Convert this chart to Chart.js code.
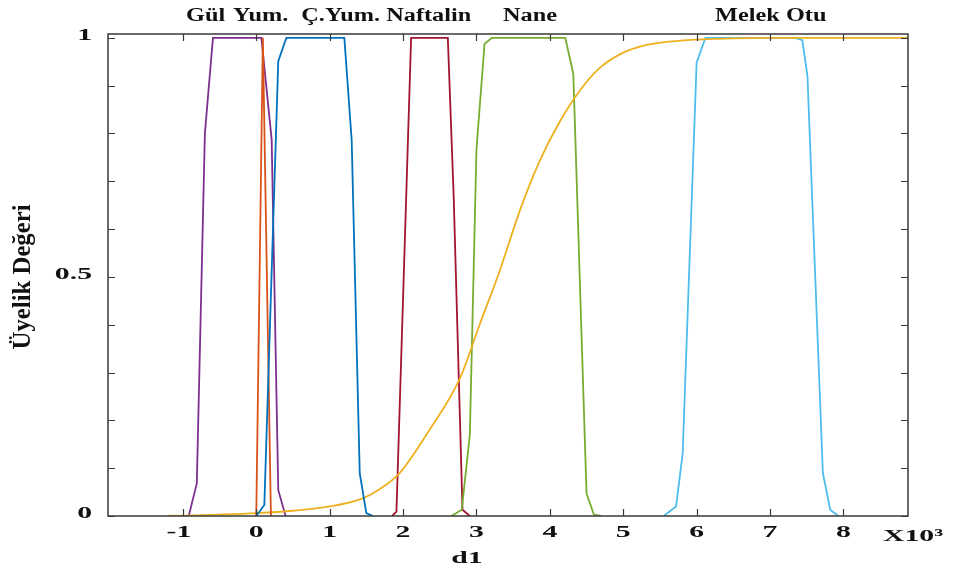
<!DOCTYPE html>
<html>
<head>
<meta charset="utf-8">
<title>d1 üyelik fonksiyonları</title>
<script src="https://cdn.jsdelivr.net/npm/chart.js@4.4.1/dist/chart.umd.min.js"></script>
<style>
  html, body { margin: 0; padding: 0; background: #ffffff; }
  #wrap { width: 955px; height: 573px; }
</style>
</head>
<body>
<div id="wrap"><canvas id="d1Chart" width="955" height="573"></canvas></div>
<script>
// x values are in thousands (axis shows X10^3), y is the membership degree
const gulX = [-0.92, -0.81, -0.70, -0.59, 0.07, 0.21, 0.30, 0.40];
const gulY = [0, 0.068, 0.80, 1, 1, 0.787, 0.054, 0];

const yumX = [0.0, 0.09, 0.20];
const yumY = [0, 1, 0];

const cyumX = [0.0, 0.11, 0.30, 0.41, 1.20, 1.30, 1.41, 1.50, 1.59];
const cyumY = [0, 0.023, 0.951, 1, 1, 0.787, 0.089, 0.006, 0];

const naftalinX = [1.85, 1.91, 2.11, 2.61, 2.69, 2.81, 2.91];
const naftalinY = [0, 0.009, 1, 1, 0.668, 0.013, 0];

const naneX = [2.66, 2.80, 2.91, 3.00, 3.11, 3.21, 4.21, 4.32, 4.50, 4.60, 4.70];
const naneY = [0, 0.013, 0.17, 0.766, 0.987, 1, 1, 0.925, 0.047, 0.003, 0];

const melekX = [5.55, 5.72, 5.81, 6.00, 6.12, 7.34, 7.44, 7.51, 7.72, 7.82, 7.93];
const melekY = [0, 0.02, 0.131, 0.948, 1, 1, 0.995, 0.92, 0.09, 0.013, 0];

// the yellow S-shaped curve
const sX = [-1.21, -0.5, 0.0, 0.5, 1.0, 1.45, 1.68, 1.95, 2.36, 2.77, 3.05, 3.32, 3.59, 3.86, 4.14, 4.41, 4.68, 4.96, 5.32, 5.78, 6.30, 7.00, 8.88];
const sY = [0, 0.003, 0.006, 0.011, 0.02, 0.037, 0.056, 0.089, 0.180, 0.286, 0.403, 0.514, 0.638, 0.742, 0.826, 0.890, 0.937, 0.966, 0.985, 0.994, 0.998, 1, 1];

// axes
const xTicks = [-1, 0, 1, 2, 3, 4, 5, 6, 7, 8];
const yMinorTicks = [0, 0.1, 0.2, 0.3, 0.4, 0.5, 0.6, 0.7, 0.8, 0.9, 1];
const yLabelValues = [0, 0.5, 1];
const yLabelTexts = ['0', '0.5', '1'];

// names written above the plot, anchored at an x value
const topLabels = ['Gül', 'Yum.', 'Ç.Yum.', 'Naftalin', 'Nane', 'Melek Otu'];
const topLabelX = [-0.69, 0.06, 1.15, 2.35, 3.73, 7.01];

function pts(xs, ys) {
    return xs.map(function(v, i) { return { x: v, y: ys[i] }; });
}

// draws text stretched sideways, the source picture is widened
function wideText(ctx, str, px, py, sx, align) {
    ctx.save();
    ctx.translate(px, py);
    ctx.scale(sx, 1);
    ctx.textAlign = align;
    ctx.fillText(str, 0, 0);
    ctx.restore();
}

const frame = {
    id: 'frame',
    afterDatasetsDraw(chart) {
        const ctx = chart.ctx;
        const a = chart.chartArea;
        const x = chart.scales.x;
        const y = chart.scales.y;
        ctx.save();

        // box
        ctx.strokeStyle = '#3a3a3a';
        ctx.lineWidth = 1.5;
        ctx.strokeRect(a.left, a.top, a.right - a.left, a.bottom - a.top);

        // inward ticks
        ctx.lineWidth = 1.2;
        ctx.beginPath();
        xTicks.forEach(function(v) {
            const px = Math.round(x.getPixelForValue(v)) + 0.5;
            ctx.moveTo(px, a.bottom); ctx.lineTo(px, a.bottom - 7);
            ctx.moveTo(px, a.top); ctx.lineTo(px, a.top + 7);
        });
        yMinorTicks.forEach(function(v) {
            const py = Math.round(y.getPixelForValue(v)) + 0.5;
            ctx.moveTo(a.left, py); ctx.lineTo(a.left + 7, py);
            ctx.moveTo(a.right, py); ctx.lineTo(a.right - 7, py);
        });
        ctx.stroke();

        ctx.fillStyle = '#111111';
        ctx.textBaseline = 'alphabetic';

        // x tick labels
        ctx.font = 'bold 17px "Liberation Serif"';
        xTicks.forEach(function(v) {
            wideText(ctx, String(v), x.getPixelForValue(v) - (v < 0 ? 4 : 0), 537, 1.75, 'center');
        });
        wideText(ctx, 'X10³', 883, 541, 1.75, 'left');

        // y tick labels
        ctx.textBaseline = 'middle';
        yLabelValues.forEach(function(v, i) {
            wideText(ctx, yLabelTexts[i], 92, y.getPixelForValue(v) - 2, 1.75, 'right');
        });

        // axis titles
        ctx.textBaseline = 'alphabetic';
        wideText(ctx, 'd1', 467, 563, 1.75, 'center');

        ctx.save();
        ctx.font = 'bold 20px "Liberation Serif"';
        const yt = 'Üyelik Değeri';
        const along = 145 / ctx.measureText(yt).width;
        ctx.translate(30, y.getPixelForValue(0.5));
        ctx.rotate(-Math.PI / 2);
        ctx.scale(along, 1.3);
        ctx.textAlign = 'center';
        ctx.fillText(yt, 0, 0);
        ctx.restore();

        // curve names on top
        ctx.font = 'bold 18px "Liberation Serif"';
        topLabels.forEach(function(t, i) {
            wideText(ctx, t, x.getPixelForValue(topLabelX[i]), 21, 1.35, 'center');
        });

        ctx.restore();
    }
};

const lineStyle = { borderWidth: 1.8, pointRadius: 0, fill: false, tension: 0 };

new Chart(document.getElementById('d1Chart'), {
    type: 'line',
    data: {
        datasets: [
            Object.assign({ label: 'Ç.Yum.', data: pts(cyumX, cyumY), borderColor: '#0072BD' }, lineStyle),
            Object.assign({ label: 'Yum.', data: pts(yumX, yumY), borderColor: '#D95319' }, lineStyle),
            Object.assign({ label: 'S', data: pts(sX, sY), borderColor: '#EDB120', cubicInterpolationMode: 'monotone' }, lineStyle),
            Object.assign({ label: 'Gül', data: pts(gulX, gulY), borderColor: '#7E2F8E' }, lineStyle),
            Object.assign({ label: 'Nane', data: pts(naneX, naneY), borderColor: '#77AC30' }, lineStyle),
            Object.assign({ label: 'Melek Otu', data: pts(melekX, melekY), borderColor: '#4DBEEE' }, lineStyle),
            Object.assign({ label: 'Naftalin', data: pts(naftalinX, naftalinY), borderColor: '#A2142F' }, lineStyle)
        ]
    },
    options: {
        responsive: false,
        animation: false,
        layout: { padding: { left: 108, right: 47, top: 34, bottom: 57 } },
        plugins: {
            legend: { display: false },
            tooltip: { enabled: false }
        },
        scales: {
            x: { type: 'linear', min: -2.02, max: 8.88, display: false },
            y: { type: 'linear', min: 0, max: 1.008, display: false }
        }
    },
    plugins: [frame]
});
</script>
</body>
</html>
